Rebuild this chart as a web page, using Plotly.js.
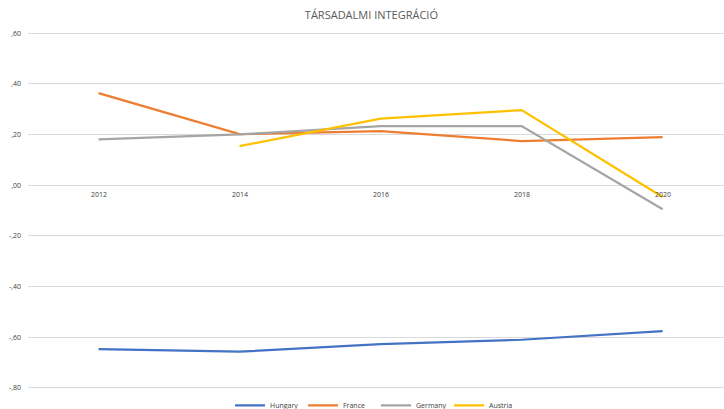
<!DOCTYPE html>
<html>
<head>
<meta charset="utf-8">
<script src="https://cdn.plot.ly/plotly-3.0.1.min.js"></script>
<style>html,body{margin:0;padding:0;background:#fff;}#chart{width:724px;height:409px;}</style>
</head>
<body>
<div id="chart"></div>
<script>
const years = [2012, 2014, 2016, 2018, 2020];
const hungary = [-0.647, -0.657, -0.627, -0.610, -0.576];
const france = [0.363, 0.201, 0.213, 0.174, 0.189];
const germany = [0.181, 0.200, 0.233, 0.233, -0.095];
const austriaYears = [2014, 2016, 2018, 2020];
const austria = [0.154, 0.262, 0.296, -0.047];
const yTickVals = [0.6, 0.4, 0.2, 0, -0.2, -0.4, -0.6, -0.8];
const yTickText = [',60', ',40', ',20', ',00', '-,20', '-,40', '-,60', '-,80'];
const xTickText = ['2012', '2014', '2016', '2018', '2020'];

const font = "'Open Sans', 'Liberation Sans', sans-serif";
const mk = (name, x, y, color) => ({
  type: 'scatter', mode: 'lines', name, x, y,
  line: {color, width: 2.25}, hoverinfo: 'skip'
});
const traces = [
  mk('Hungary', years, hungary, '#4472C4'),
  mk('France', years, france, '#ED7D31'),
  mk('Germany', years, germany, '#A5A5A5'),
  mk('Austria', austriaYears, austria, '#FFC000')
];
const annotations = years.map((yr, i) => ({
  x: yr, y: 0, xref: 'x', yref: 'y', text: xTickText[i], showarrow: false,
  yanchor: 'top', yshift: -3, font: {family: font, size: 7, color: '#404040'}
}));
const layout = {
  width: 724, height: 409,
  margin: {l: 28, r: 0, t: 28, b: 14, autoexpand: false},
  paper_bgcolor: '#fff', plot_bgcolor: '#fff',
  title: {text: 'TÁRSADALMI INTEGRÁCIÓ', x: 0.513, xanchor: 'center', y: 0.963, yanchor: 'middle',
    font: {family: font, size: 11, color: '#595959'}},
  xaxis: {range: [2011, 2020.87], showgrid: false, zeroline: false, showticklabels: false, showline: false, fixedrange: true},
  yaxis: {range: [-0.828, 0.62], tickvals: yTickVals, ticktext: yTickText, showgrid: true,
    gridcolor: '#D9D9D9', gridwidth: 1, zeroline: false, showline: false, ticks: '',
    ticklabelstandoff: 6, tickfont: {family: font, size: 7, color: '#404040'}},
  showlegend: true,
  legend: {orientation: 'h', xref: 'paper', x: 0.5, xanchor: 'center', yref: 'paper', y: -0.028, yanchor: 'middle',
    font: {family: font, size: 7, color: '#404040'}, tracegroupgap: 0, entrywidth: 28, bgcolor: 'rgba(0,0,0,0)'},
  annotations
};
Plotly.newPlot('chart', traces, layout, {displayModeBar: false, staticPlot: true});
</script>
</body>
</html>
